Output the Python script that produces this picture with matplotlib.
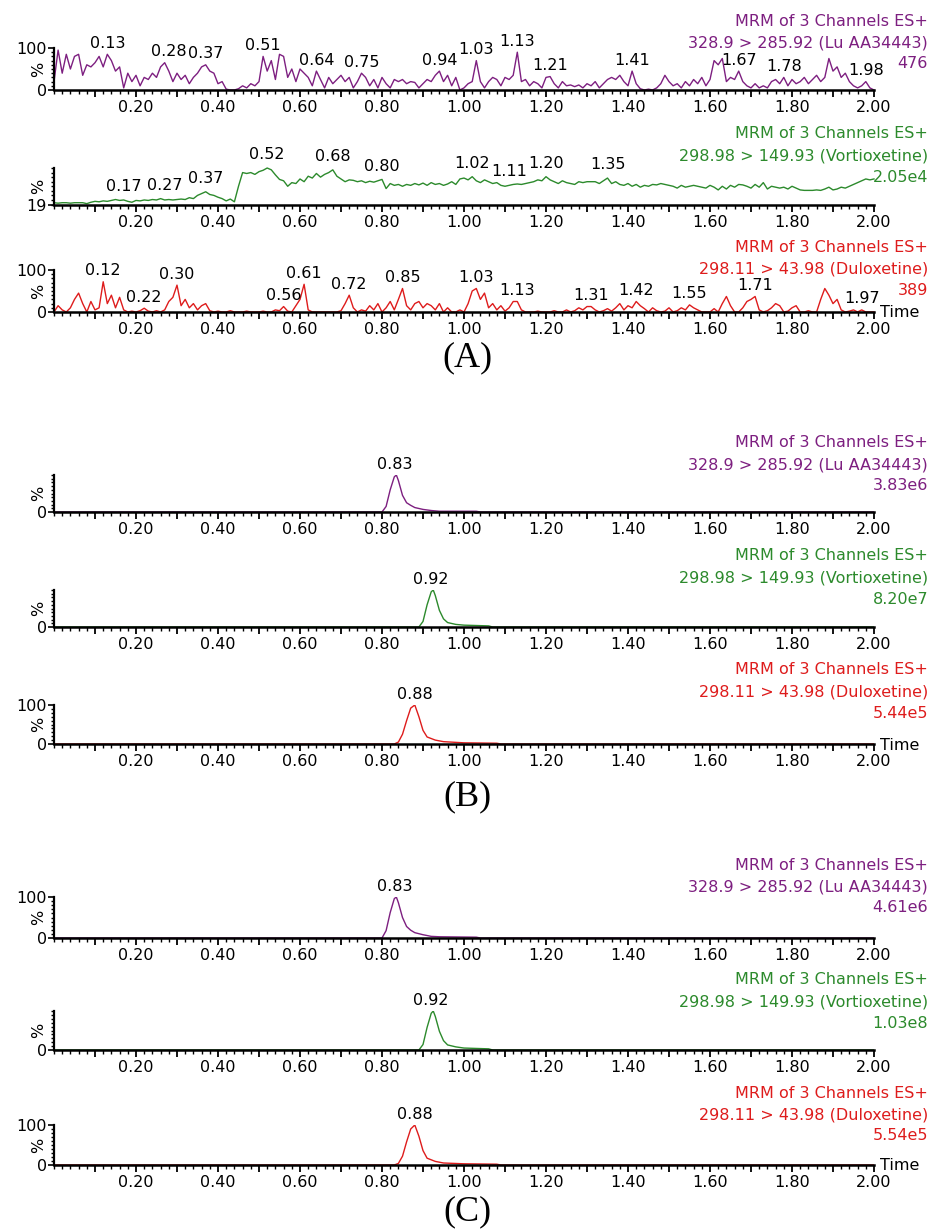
import numpy as np
from matplotlib import pyplot as plt
from matplotlib.ticker import MultipleLocator

plt.rcParams['font.family'] = ['DejaVu Sans']

# ---- data -------------------------------------------------------------
# retention time grid (min) for the noisy blank traces
t_noise = np.round(np.arange(0, 2.001, 0.01), 2)

# (A) blank plasma, relative intensity %
a_lu = [20, 95, 40, 85, 50, 80, 85, 35, 60, 55,
        65, 80, 55, 85, 70, 45, 55, 5, 40, 20,
        35, 10, 30, 25, 40, 30, 55, 65, 45, 20,
        40, 25, 35, 15, 30, 40, 55, 60, 45, 40,
        15, 20, 2, 0, 0, 3, 10, 5, 15, 10,
        20, 80, 45, 70, 25, 85, 80, 30, 50, 20,
        50, 40, 30, 10, 45, 25, 5, 30, 15, 25,
        35, 20, 30, 5, 20, 40, 30, 10, 25, 5,
        30, 15, 5, 25, 20, 25, 15, 20, 18, 5,
        15, 25, 20, 35, 45, 20, 35, 10, 30, 0,
        5, 15, 20, 70, 20, 5, 20, 30, 25, 10,
        30, 25, 35, 90, 20, 25, 10, 20, 15, 5,
        30, 32, 15, 5, 20, 10, 12, 8, 12, 5,
        15, 10, 20, 5, 15, 25, 30, 25, 35, 20,
        10, 45, 15, 3, 0, 2, 0, 5, 15, 35,
        20, 10, 15, 5, 20, 10, 25, 15, 30, 10,
        25, 70, 60, 75, 20, 30, 25, 45, 20, 10,
        5, 15, 5, 10, 5, 20, 25, 15, 30, 10,
        25, 15, 20, 30, 15, 25, 35, 20, 30, 75,
        45, 55, 30, 40, 20, 10, 5, 10, 20, 5, 0]

a_vor = [24, 23, 24, 24, 23, 24, 24, 24, 22, 25,
         27, 26, 28, 27, 29, 31, 29, 30, 27, 25,
         29, 28, 30, 29, 31, 30, 33, 30, 31, 30,
         31, 32, 31, 35, 33, 40, 44, 48, 42, 40,
         36, 33, 28, 32, 26, 60, 90, 88, 90, 86,
         92, 95, 100, 96, 85, 75, 72, 60, 68, 66,
         76, 70, 82, 78, 88, 80, 86, 90, 96, 82,
         76, 70, 74, 73, 70, 72, 68, 71, 69, 72,
         75, 55, 66, 62, 64, 60, 64, 62, 66, 63,
         67, 62, 68, 64, 66, 62, 65, 70, 64, 76,
         78, 74, 81, 72, 68, 74, 70, 66, 68, 62,
         60, 62, 64, 65, 64, 66, 68, 70, 74, 72,
         81, 74, 70, 66, 72, 68, 66, 64, 70, 68,
         70, 70, 70, 66, 72, 78, 66, 70, 64, 62,
         66, 60, 64, 58, 62, 60, 64, 63, 66, 64,
         62, 60, 56, 62, 58, 60, 62, 60, 58, 56,
         62, 58, 52, 60, 54, 62, 58, 64, 63, 60,
         56, 64, 58, 68, 54, 60, 58, 56, 58, 54,
         60, 56, 52, 51, 51, 51, 52, 51, 54, 58,
         52, 54, 58, 56, 60, 64, 68, 72, 76, 74, 76]

a_dul = [0, 15, 5, 0, 10, 30, 45, 20, 0, 25,
         5, 10, 72, 20, 40, 10, 35, 5, 0, 2,
         0, 3, 9, 2, 0, 3, 0, 5, 25, 35,
         64, 15, 30, 10, 20, 5, 15, 20, 3, 0,
         2, 0, 0, 3, 0, 0, 0, 2, 0, 0,
         0, 2, 0, 0, 5, 3, 13, 2, 0, 15,
         30, 66, 5, 0, 0, 0, 0, 0, 0, 0,
         3, 20, 40, 10, 0, 5, 2, 15, 5, 20,
         0, 10, 25, 5, 30, 56, 15, 5, 20, 25,
         10, 20, 15, 5, 20, 0, 10, 0, 0, 5,
         0, 20, 50, 56, 30, 45, 10, 20, 5, 15,
         2, 10, 25, 25, 5, 0, 0, 0, 2, 0,
         0, 0, 3, 0, 0, 5, 0, 3, 10, 5,
         13, 13, 5, 0, 3, 8, 2, 10, 20, 5,
         15, 10, 25, 15, 8, 0, 10, 3, 0, 2,
         10, 0, 3, 10, 5, 17, 10, 5, 0, 0,
         0, 8, 0, 20, 37, 15, 0, 0, 10, 25,
         30, 37, 5, 0, 3, 10, 20, 15, 0, 2,
         10, 15, 0, 0, 3, 0, 0, 30, 56, 40,
         20, 30, 5, 0, 2, 5, 0, 5, 0, 0, 0]

# peak shapes for (B) and (C): (time, %)
t_lu = [0, 0.80, 0.81, 0.82, 0.83, 0.835, 0.84, 0.85, 0.86, 0.87, 0.88, 0.90, 0.92, 0.94, 1.03, 1.04, 2.00]
b_lu = [0, 0, 15, 60, 95, 100, 85, 45, 25, 18, 12, 7, 4, 2, 2, 0, 0]
c_lu = [0, 0, 18, 62, 96, 100, 86, 50, 28, 19, 13, 8, 4, 3, 2, 0, 0]

t_vor = [0, 0.89, 0.90, 0.91, 0.92, 0.925, 0.93, 0.94, 0.95, 0.96, 0.98, 1.00, 1.06, 1.07, 2.00]
b_vor = [0, 0, 15, 60, 95, 100, 85, 45, 22, 12, 7, 5, 3, 0, 0]
c_vor = [0, 0, 14, 58, 94, 100, 86, 48, 24, 13, 8, 5, 3, 0, 0]

t_dul = [0, 0.83, 0.84, 0.85, 0.86, 0.87, 0.88, 0.89, 0.90, 0.91, 0.93, 0.95, 1.00, 1.08, 1.09, 2.00]
b_dul = [0, 0, 5, 25, 60, 92, 100, 70, 35, 18, 10, 6, 3, 2, 0, 0]
c_dul = [0, 0, 4, 22, 58, 90, 100, 72, 36, 17, 9, 5, 3, 2, 0, 0]

# peak labels
lab_a_lu = ['0.13', '0.28', '0.37', '0.51', '0.64', '0.75', '0.94', '1.03', '1.13', '1.21', '1.41', '1.67', '1.78', '1.98']
lab_a_vor = ['0.17', '0.27', '0.37', '0.52', '0.68', '0.80', '1.02', '1.11', '1.20', '1.35']
lab_a_dul = ['0.12', '0.22', '0.30', '0.56', '0.61', '0.72', '0.85', '1.03', '1.13', '1.31', '1.42', '1.55', '1.71', '1.97']

titles = {'lu': '328.9 > 285.92 (Lu AA34443)',
          'vor': '298.98 > 149.93 (Vortioxetine)',
          'dul': '298.11 > 43.98 (Duloxetine)'}
intensities = {'A': ['476', '2.05e4', '389'],
               'B': ['3.83e6', '8.20e7', '5.44e5'],
               'C': ['4.61e6', '1.03e8', '5.54e5']}

colors = {'lu': '#7d1f80', 'vor': '#2c8a2c', 'dul': '#de1c1c'}
FS = 11.5

# ---- layout (pixels) --------------------------------------------------
W, H = 934, 1230
X0, X1 = 54, 874

fig = plt.figure(figsize=(W / 100, H / 100), dpi=100)


def panel(top, zero, ymin, ytop_label, ybot_label):
    ax = fig.add_axes([X0 / W, 1 - zero / H, (X1 - X0) / W, (zero - top) / H])
    ax.set_xlim(0, 2.0)
    ax.set_ylim(ymin, 100)
    for s in ['top', 'right']:
        ax.spines[s].set_visible(False)
    ax.spines['left'].set_linewidth(1.6)
    ax.spines['bottom'].set_linewidth(1.8)
    ax.patch.set_alpha(0)
    maj = np.round(np.arange(0.1, 2.001, 0.1), 2)
    ax.set_xticks(maj)
    ax.set_xticklabels(['%.2f' % v if round(v * 10) % 2 == 0 else '' for v in maj])
    ax.xaxis.set_minor_locator(MultipleLocator(0.02))
    ax.tick_params(axis='x', which='major', length=5, width=1.3, labelsize=FS, pad=2)
    ax.tick_params(axis='x', which='minor', length=3, width=1.0)
    yt, yl = [ymin], [ybot_label]
    if ytop_label:
        yt.append(100)
        yl.append(ytop_label)
    ax.set_yticks(yt)
    ax.set_yticklabels(yl)
    ax.yaxis.set_minor_locator(MultipleLocator(10))
    ax.tick_params(axis='y', which='major', length=4, width=1.2, labelsize=FS, pad=1)
    ax.tick_params(axis='y', which='minor', length=2.5, width=1.0)
    ax.text(-0.019, 0.5, '%', transform=ax.transAxes, rotation=90,
            ha='center', va='center', fontsize=FS)
    return ax


def header(top_y, key, inten):
    c = colors[key]
    for dy, s in zip([0, 22, 43], ['MRM of 3 Channels ES+', titles[key], inten]):
        fig.text(928 / W, 1 - (top_y + dy) / H, s, ha='right', va='center',
                 fontsize=FS, color=c)


def label_peaks(ax, t, y, labels, dy=2.5):
    t = np.asarray(t, dtype=float)
    y = np.asarray(y, dtype=float)
    for lab in labels:
        tv = float(lab)
        m = np.abs(t - tv) <= 0.011
        v = y[m].max()
        ax.annotate(lab, xy=(tv, v), xytext=(0, dy), textcoords='offset points',
                    ha='center', va='bottom', fontsize=FS, annotation_clip=False)


def time_label(zero):
    fig.text(880 / W, 1 - (zero + 1) / H, 'Time', ha='left', va='center', fontsize=FS)


def group_label(y, s):
    fig.text(467 / W, 1 - y / H, s, ha='center', va='center',
             fontsize=26, family='Liberation Serif')


# (A)
ax = panel(48, 90, 0, '100', '0')
ax.plot(t_noise, a_lu, color=colors['lu'], lw=1.0, clip_on=False)
label_peaks(ax, t_noise, a_lu, lab_a_lu)
header(21, 'lu', intensities['A'][0])

ax = panel(168, 205, 19, None, '19')
ax.plot(t_noise, a_vor, color=colors['vor'], lw=1.0, clip_on=False)
label_peaks(ax, t_noise, a_vor, lab_a_vor, dy=4)
header(134, 'vor', intensities['A'][1])

ax = panel(270, 312, 0, '100', '0')
ax.plot(t_noise, a_dul, color=colors['dul'], lw=1.0, clip_on=False)
label_peaks(ax, t_noise, a_dul, lab_a_dul)
header(247, 'dul', intensities['A'][2])
time_label(312)
group_label(358, '(A)')

# (B)
ax = panel(475, 512, 0, None, '0')
ax.plot(t_lu, b_lu, color=colors['lu'], lw=1.0)
label_peaks(ax, t_lu, b_lu, ['0.83'])
header(443, 'lu', intensities['B'][0])

ax = panel(590, 627, 0, None, '0')
ax.plot(t_vor, b_vor, color=colors['vor'], lw=1.0)
label_peaks(ax, t_vor, b_vor, ['0.92'])
header(556, 'vor', intensities['B'][1])

ax = panel(705, 744, 0, '100', '0')
ax.plot(t_dul, b_dul, color=colors['dul'], lw=1.0)
label_peaks(ax, t_dul, b_dul, ['0.88'])
header(670, 'dul', intensities['B'][2])
time_label(744)
group_label(797, '(B)')

# (C)
ax = panel(897, 938, 0, '100', '0')
ax.plot(t_lu, c_lu, color=colors['lu'], lw=1.0)
label_peaks(ax, t_lu, c_lu, ['0.83'])
header(865, 'lu', intensities['C'][0])

ax = panel(1011, 1050, 0, None, '0')
ax.plot(t_vor, c_vor, color=colors['vor'], lw=1.0)
label_peaks(ax, t_vor, c_vor, ['0.92'])
header(980, 'vor', intensities['C'][1])

ax = panel(1125, 1165, 0, '100', '0')
ax.plot(t_dul, c_dul, color=colors['dul'], lw=1.0)
label_peaks(ax, t_dul, c_dul, ['0.88'])
header(1093, 'dul', intensities['C'][2])
time_label(1165)
group_label(1212, '(C)')

fig.savefig('out.png', dpi=100)
